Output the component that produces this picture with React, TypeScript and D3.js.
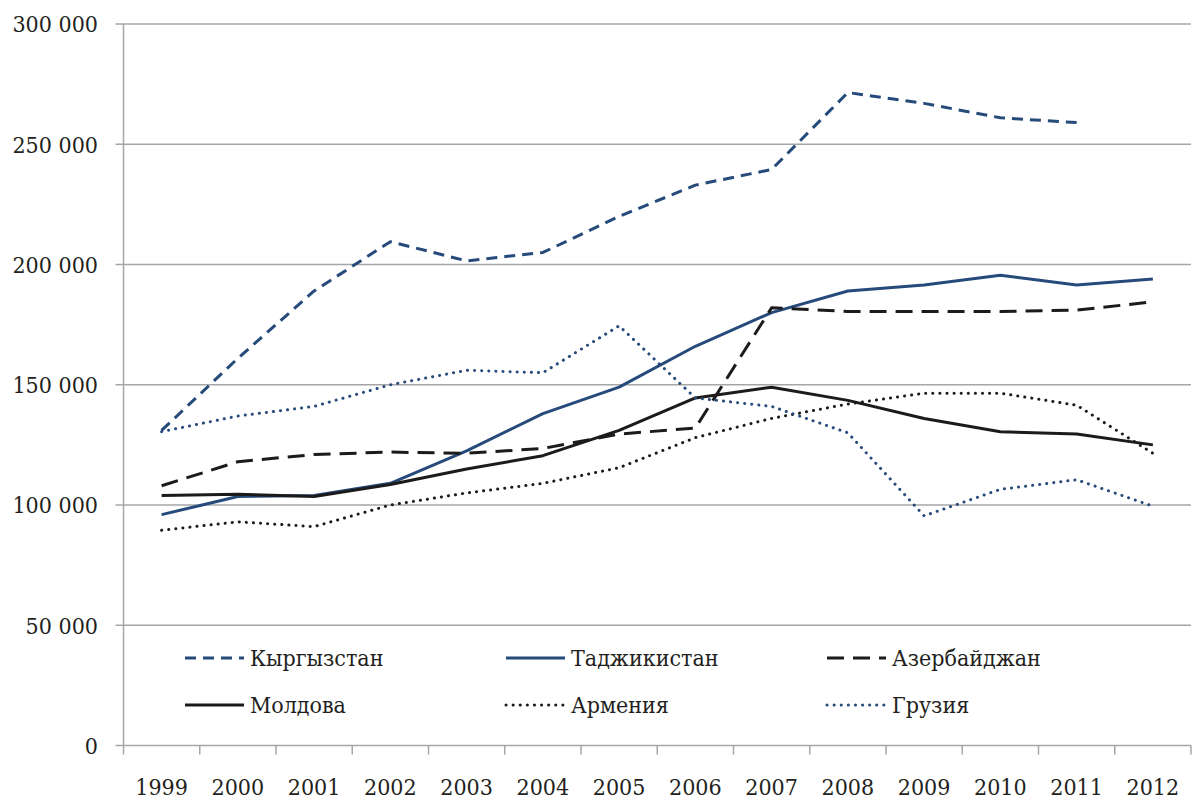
import { useEffect, useRef } from "react";
import * as d3 from "d3";

const YEARS = ["1999", "2000", "2001", "2002", "2003", "2004", "2005", "2006", "2007", "2008", "2009", "2010", "2011", "2012"];

const KYRGYZSTAN = [131000, 161000, 189000, 209500, 201500, 205000, 220000, 233000, 239500, 271500, 267000, 261000, 259000, null];
const TAJIKISTAN = [96000, 103500, 104000, 109000, 122500, 138000, 149000, 166000, 180000, 189000, 191500, 195500, 191500, 194000];
const AZERBAIJAN = [108000, 118000, 121000, 122000, 121500, 123500, 129500, 132000, 182000, 180500, 180500, 180500, 181000, 184500];
const MOLDOVA = [104000, 104500, 103500, 108500, 115000, 120500, 131000, 144500, 149000, 143500, 136000, 130500, 129500, 125000];
const ARMENIA = [89500, 93000, 91000, 100000, 105000, 109000, 115500, 128000, 136000, 142000, 146500, 146500, 141500, 121500];
const GEORGIA = [130500, 137000, 141000, 150000, 156000, 155000, 174500, 144500, 141000, 130000, 95500, 106500, 110500, 99500];

const Y_TICKS = [0, 50000, 100000, 150000, 200000, 250000, 300000];

const BLUE = "#264a7a";
const BLACK = "#1c1a1b";

const SERIES = [
  { name: "Кыргызстан", values: KYRGYZSTAN, color: BLUE, dash: "11 7", cap: "butt" },
  { name: "Таджикистан", values: TAJIKISTAN, color: BLUE, dash: null, cap: "butt" },
  { name: "Азербайджан", values: AZERBAIJAN, color: BLACK, dash: "17 9", cap: "butt" },
  { name: "Молдова", values: MOLDOVA, color: BLACK, dash: null, cap: "butt" },
  { name: "Армения", values: ARMENIA, color: BLACK, dash: "0.1 7", cap: "round" },
  { name: "Грузия", values: GEORGIA, color: BLUE, dash: "0.1 7", cap: "round" },
];

// Liberation Serif is not picked up here, so DejaVu Serif (condensed if present)
const FONT = "DejaVu Serif Condensed, DejaVu Serif";

export default function App() {
  const svgRef = useRef<SVGSVGElement>(null);

  useEffect(() => {
    if (!svgRef.current) return;
    const left = 123.5;
    const right = 1191;
    const top = 24;
    const bottom = 745.5;

    const svg = d3.select(svgRef.current);
    svg.selectAll("*").remove();

    const x = d3.scaleBand().domain(YEARS).range([left, right]).paddingInner(0).paddingOuter(0);
    const y = d3.scaleLinear().domain([0, 300000]).range([bottom, top]);
    const grid = "#a6a6a6";

    const label = (sel: any) =>
      sel.attr("font-family", FONT).attr("font-stretch", "condensed")
        .attr("font-size", 23).attr("fill", "#231f20");

    // gridlines + y ticks
    Y_TICKS.forEach((t) => {
      svg.append("line")
        .attr("x1", left - 8).attr("x2", right)
        .attr("y1", y(t)).attr("y2", y(t))
        .attr("stroke", grid).attr("stroke-width", 1.5);
      svg.append("text")
        .attr("x", 98).attr("y", y(t)).attr("dy", "0.36em")
        .attr("text-anchor", "end")
        .call(label)
        .text(d3.format(",")(t).replace(/,/g, " "));
    });

    // left axis
    svg.append("line")
      .attr("x1", left).attr("x2", left).attr("y1", top).attr("y2", bottom + 9)
      .attr("stroke", grid).attr("stroke-width", 1.5);

    // x ticks and labels
    YEARS.forEach((yr) => {
      const xr = (x(yr) as number) + x.bandwidth();
      svg.append("line")
        .attr("x1", xr).attr("x2", xr).attr("y1", bottom).attr("y2", bottom + 9)
        .attr("stroke", grid).attr("stroke-width", 1.5);
      svg.append("text")
        .attr("x", (x(yr) as number) + x.bandwidth() / 2).attr("y", 795)
        .attr("text-anchor", "middle")
        .call(label)
        .text(yr);
    });

    const line = d3.line<number | null>()
      .defined((d) => d != null)
      .x((_, i) => (x(YEARS[i]) as number) + x.bandwidth() / 2)
      .y((d) => y(d as number));

    SERIES.forEach((s) => {
      svg.append("path")
        .datum(s.values)
        .attr("d", line)
        .attr("fill", "none")
        .attr("stroke", s.color)
        .attr("stroke-width", 3)
        .attr("stroke-linejoin", "round")
        .attr("stroke-linecap", s.cap)
        .attr("stroke-dasharray", s.dash);
    });

    // legend
    const colX = [185, 506, 827];
    const rowY = [658, 705];
    SERIES.forEach((s, i) => {
      const cx = colX[i % 3];
      const cy = rowY[Math.floor(i / 3)];
      svg.append("line")
        .attr("x1", cx).attr("x2", cx + 59).attr("y1", cy).attr("y2", cy)
        .attr("stroke", s.color).attr("stroke-width", 3)
        .attr("stroke-linecap", s.cap)
        .attr("stroke-dasharray", s.dash);
      svg.append("text")
        .attr("x", cx + 65).attr("y", cy).attr("dy", "0.36em")
        .call(label)
        .text(s.name);
    });
  }, []);

  return (
    <div style={{ position: "absolute", left: 0, top: 0, width: 1192, height: 801, background: "#fff" }}>
      <svg ref={svgRef} width={1192} height={801} style={{ display: "block" }} />
    </div>
  );
}
